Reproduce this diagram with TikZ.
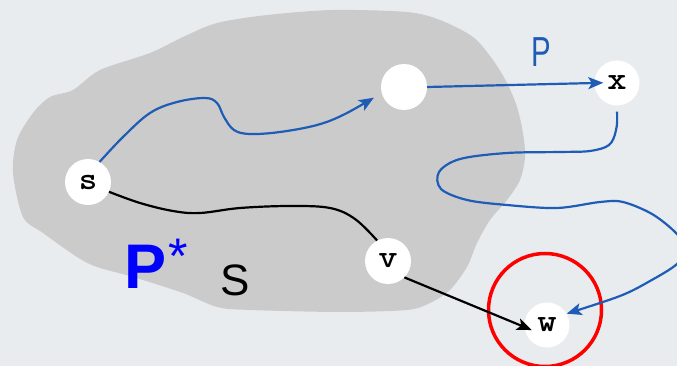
\documentclass[tikz,border=0pt]{standalone}
\usepackage{fontspec}
\newfontfamily\lsans{Liberation Sans}
\usetikzlibrary{arrows.meta}
\definecolor{bgc}{RGB}{233,236,238}
\definecolor{blobc}{RGB}{203,203,203}
\definecolor{pathblue}{RGB}{30,92,182}
\tikzset{
  vtx/.style={circle, fill=white, minimum size=46pt, inner sep=0pt,
    font=\fontsize{32}{32}\selectfont\ttfamily\bfseries\addfontfeature{FakeBold=1.5}},
  bluepath/.style={draw=pathblue, line width=2.2pt},
  blackpath/.style={draw=black, line width=2.2pt},
  tip/.style={-{Stealth[length=15pt, width=12pt, inset=3.5pt]}},
}
\begin{document}
\begin{tikzpicture}[x=1pt, y=-1pt]
  \useasboundingbox (0,0) rectangle (677,366);
  \clip (0,0) rectangle (677,366);
  \fill[bgc] (0,0) rectangle (677,366);

  % region S
  \fill[blobc] plot[smooth cycle, tension=0.5] coordinates {
    (100,70) (150,53) (183,37) (217,23) (267,15) (333,10) (407,12)
    (440,20) (473,37) (493,60) (507,83) (517,107) (523,133) (525,157)
    (520,180) (507,200) (490,220) (477,243) (467,267) (450,290)
    (430,303) (407,310) (340,312) (250,310) (217,307) (183,293)
    (133,277) (97,267) (77,257) (43,233) (23,217) (13,173) (17,140)
    (33,113) (50,97) (73,90)};

  % vertices
  \node[vtx] (s) at (88,182) {\scalebox{1.1}[1]{s}};
  \node[vtx] (b) at (404,87) {};
  \node[vtx, minimum size=45pt] (x) at (617,83) {\scalebox{1.15}[1]{x}};
  \node[vtx] (v) at (388,261) {\scalebox{1.15}[1]{v}};
  \node[vtx, minimum size=45pt] (w) at (547,325) {\scalebox{1.15}[1]{w}};

  % highlight around w
  \node[circle, draw=red, line width=3.5pt, minimum size=113pt, inner sep=0pt]
    (hl) at (545,310) {};

  % labels
  \node[text=pathblue, font=\lsans\fontsize{42}{42}\selectfont]
    (lp) at (541,52) {\scalebox{0.7}[1]{P}};
  \node[text=blue, font=\lsans\fontsize{63}{63}\selectfont\bfseries, anchor=base west, inner sep=0pt]
    (lps) at (124,288) {P\kern2pt\raisebox{15pt}{\fontsize{50}{50}\selectfont\mdseries *}};
  \node[font=\lsans\fontsize{44}{44}\selectfont, anchor=base, inner sep=0pt]
    (ls) at (235,295) {S};

  % path P from s through the region to x and on to w
  \draw[bluepath, tip, shorten >=9pt] plot[smooth, tension=0.6] coordinates {
    (s.60) (123,137) (150,113) (177,102) (205,98) (217,103) (224,117)
    (234,130) (250,134) (280,132) (317,125) (345,114) (b.195)};
  \draw[bluepath, tip, shorten >=-9pt] (b.east) -- (x.west);
  \draw[bluepath, tip, shorten <=6pt] plot[smooth, tension=0.55] coordinates {
    (x.south) (616,130) (609,145) (590,151) (560,152) (507,153)
    (460,159) (439,172) (441,189) (467,200) (507,205) (557,208)
    (600,202) (623,202) (652,214) (675,232) (686,248) (677,264)
    (650,281) (620,296) (w.30)};

  % path P* from s through v to w
  \draw[blackpath] plot[smooth, tension=0.6] coordinates {
    (s.-25) (140,203) (173,211) (200,213) (240,208) (290,206)
    (330,208) (355,219) (v.118)};
  \draw[blackpath, tip, shorten >=-8pt] (v.-45) -- (w.185);
\end{tikzpicture}
\end{document}
